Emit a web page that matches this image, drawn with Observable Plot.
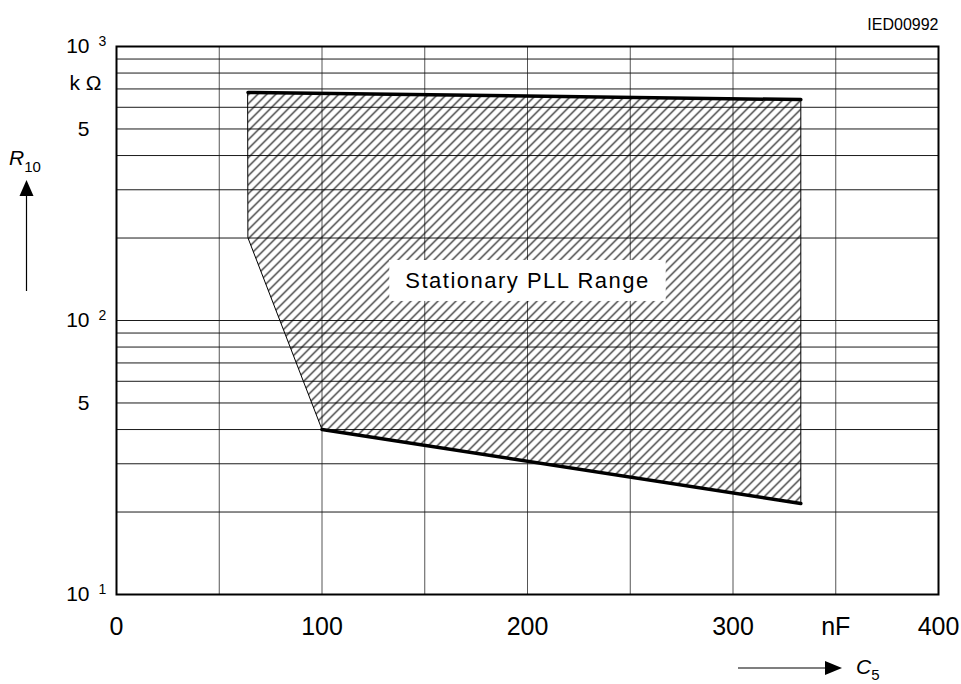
<!DOCTYPE html>
<html><head><meta charset="utf-8">
<script src="https://cdn.jsdelivr.net/npm/d3@7"></script>
<script src="https://cdn.jsdelivr.net/npm/@observablehq/plot@0.6"></script>
<style>body{margin:0;background:#fff} svg{display:block}</style>
</head><body><div id="chart"></div>
<script>
// Stationary PLL range polygon (C5 in nF, R10 in kΩ)
const regionC = [64, 333, 333, 100, 64];
const regionR = [680, 640, 21.5, 40, 200];
// thick boundary lines
const upperC = [64, 333];
const upperR = [680, 640];
const lowerC = [100, 333];
const lowerR = [40, 21.5];
// axes
const xTicks = [0, 100, 200, 300, 400];
const xUnitPos = [350];
const xUnit = ["nF"];
const xGrid = [50, 100, 150, 200, 250, 300, 350];
const yGrid = [20, 30, 40, 50, 60, 70, 80, 90, 100, 200, 300, 400, 500, 600, 700, 800, 900];
const yDecades = [10, 100, 1000];
const yExponents = ["1", "2", "3"];
const yFives = [50, 500];
const yUnit = ["k Ω"];
// label
const labelC = [200];
const labelR = [140];
const labelText = ["Stationary PLL Range"];
const figId = ["IED00992"];

const font = "'Liberation Sans',Arial,sans-serif";

const plot = Plot.plot({
  width: 961, height: 684,
  marginLeft: 116, marginRight: 23, marginTop: 46, marginBottom: 90,
  x: {domain: [0, 400], axis: null},
  y: {type: "log", domain: [10, 1000], axis: null},
  style: {fontFamily: font, background: "white", color: "black"},
  marks: [
    Plot.ruleX(xGrid, {x: d => d, stroke: "#555", strokeWidth: 1}),
    Plot.ruleY(yGrid, {y: d => d, stroke: "#1a1a1a", strokeWidth: 1}),
    Plot.line(regionC.map((c, i) => ({c, r: regionR[i]})), {
      x: "c", y: "r", curve: "linear-closed",
      fill: "url(#hatch)", stroke: "black", strokeWidth: 1
    }),
    Plot.line(upperC.map((c, i) => ({c, r: upperR[i]})), {x: "c", y: "r", stroke: "black", strokeWidth: 3.5}),
    Plot.line(lowerC.map((c, i) => ({c, r: lowerR[i]})), {x: "c", y: "r", stroke: "black", strokeWidth: 3.5}),
    Plot.frame({stroke: "black", strokeWidth: 2}),
    Plot.text(labelText, {x: labelC, y: labelR, text: d => d, fontSize: 22, fill: "black", lineAnchor: "middle"}),
    // x tick labels
    Plot.text(xTicks, {x: d => d, frameAnchor: "bottom", dy: 32, text: d => String(d), fontSize: 25, lineAnchor: "middle"}),
    Plot.text(xUnit, {x: xUnitPos, frameAnchor: "bottom", dy: 32, text: d => d, fontSize: 25, lineAnchor: "middle"}),
    // y tick labels
    Plot.text(yDecades, {y: d => d, frameAnchor: "left", dx: -27, text: () => "10", textAnchor: "end", fontSize: 21, lineAnchor: "middle"}),
    Plot.text(yDecades, {y: d => d, frameAnchor: "left", dx: -18, dy: -5, text: (d, i) => yExponents[i], textAnchor: "start", fontSize: 14, lineAnchor: "middle"}),
    Plot.text(yFives, {y: d => d, frameAnchor: "left", dx: -27, text: () => "5", textAnchor: "end", fontSize: 21, lineAnchor: "middle"}),
    Plot.text(yUnit, {frameAnchor: "top-left", dx: -31, dy: 37, text: d => d, textAnchor: "middle", fontSize: 21, lineAnchor: "middle"}),
    Plot.text(figId, {frameAnchor: "top-right", dy: -22, text: d => d, textAnchor: "end", fontSize: 16, lineAnchor: "middle"})
  ]
});

document.getElementById("chart").append(plot);
const NS = "http://www.w3.org/2000/svg";

// hatch pattern (transparent so the grid shows through)
const defs = document.createElementNS(NS, "defs");
defs.innerHTML = '<pattern id="hatch" patternUnits="userSpaceOnUse" width="9" height="9">' +
  '<path d="M0,9 L9,0 M-2,2 L2,-2 M7,11 L11,7" stroke="black" stroke-width="1.1" fill="none"/></pattern>';
plot.insertBefore(defs, plot.firstChild);

// white box behind the label
const lbl = Array.from(plot.querySelectorAll("text")).find(t => t.textContent.trim() === labelText[0]);
if (lbl) {
  lbl.setAttribute("letter-spacing", "1.5");
  const b = lbl.getBBox();
  const rect = document.createElementNS(NS, "rect");
  const w = b.width > 0 ? b.width : 245, h = b.height > 0 ? b.height : 25;
  const cx = plot.scale("x").apply(labelC[0]), cy = plot.scale("y").apply(labelR[0]);
  rect.setAttribute("x", cx - w / 2 - 16);
  rect.setAttribute("y", cy - h / 2 - 8);
  rect.setAttribute("width", w + 32);
  rect.setAttribute("height", h + 16);
  rect.setAttribute("fill", "white");
  lbl.parentNode.insertBefore(rect, lbl);
}

// axis titles with arrows
const deco = d3.select(plot).append("g").attr("font-family", font).attr("fill", "black").attr("text-anchor", "start");
const r = deco.append("text").attr("x", 9).attr("y", 165).attr("font-size", 21).attr("font-style", "italic");
r.append("tspan").text("R");
r.append("tspan").attr("font-style", "normal").attr("font-size", 15).attr("dy", 7).text("10");
deco.append("line").attr("x1", 26.5).attr("x2", 26.5).attr("y1", 291).attr("y2", 192).attr("stroke", "black").attr("stroke-width", 1.2);
deco.append("path").attr("d", "M26.5,180 L19.5,196 L33.5,196 Z").attr("fill", "black");
deco.append("line").attr("x1", 738).attr("x2", 828).attr("y1", 668).attr("y2", 668).attr("stroke", "black").attr("stroke-width", 1.2);
deco.append("path").attr("d", "M842,668 L825,661 L825,675 Z").attr("fill", "black");
const c = deco.append("text").attr("x", 856).attr("y", 674).attr("font-size", 21).attr("font-style", "italic");
c.append("tspan").text("C");
c.append("tspan").attr("font-style", "normal").attr("font-size", 15).attr("dy", 6).text("5");
</script>
</body></html>
